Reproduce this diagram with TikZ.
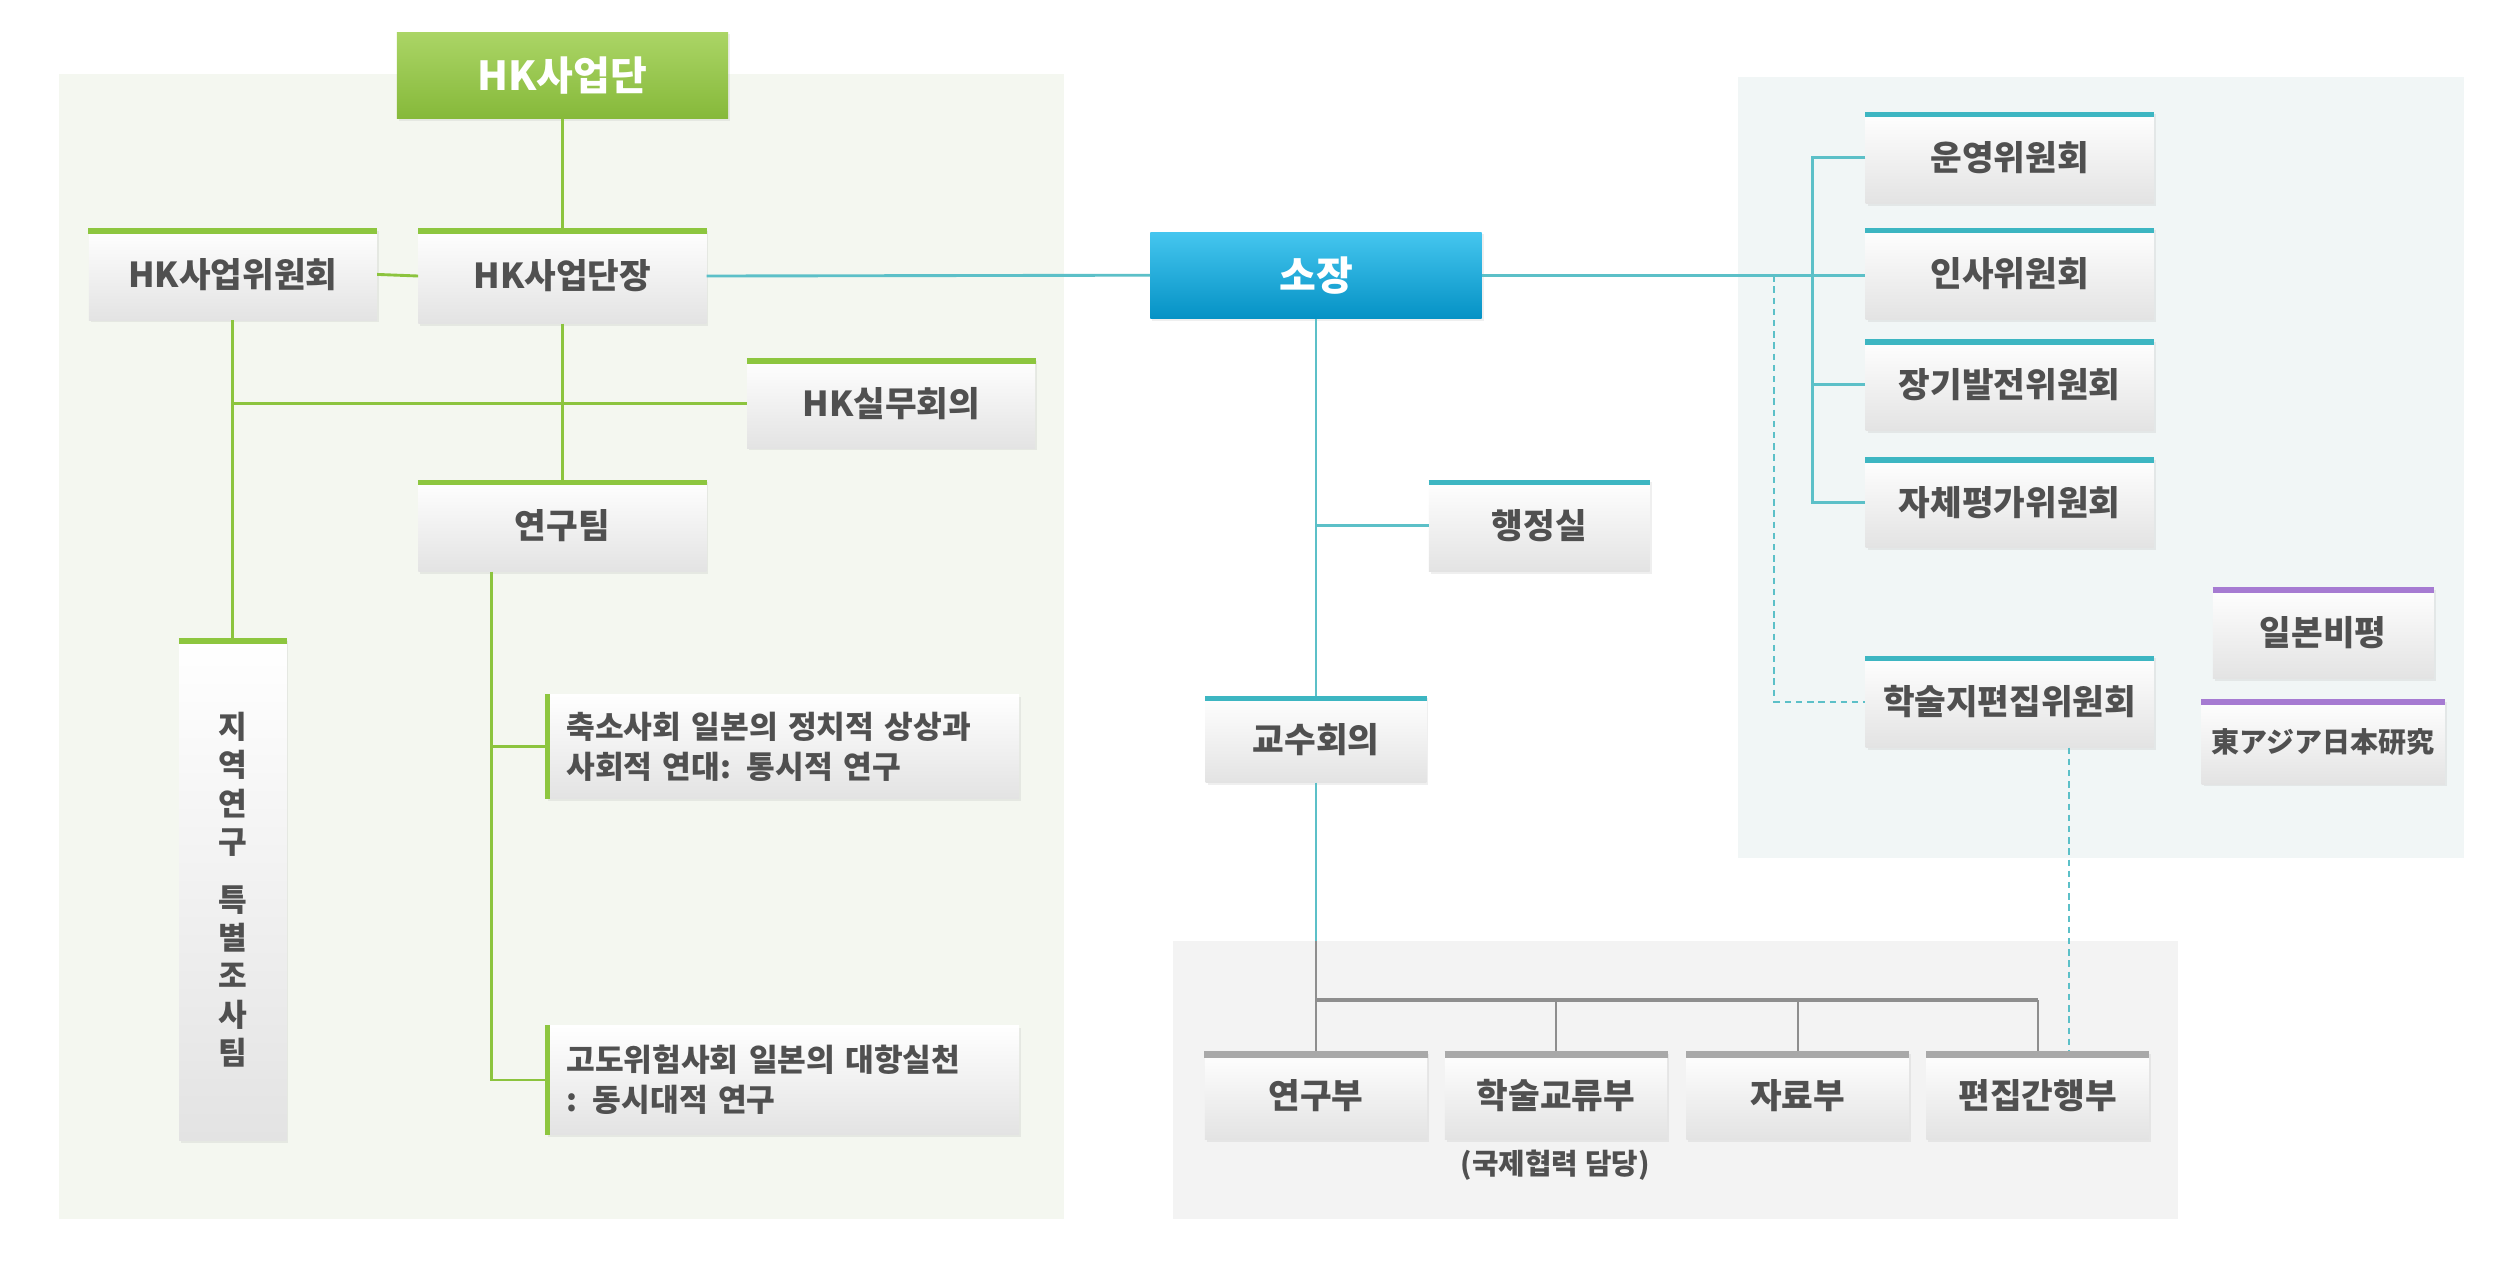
\documentclass[tikz,border=0pt]{standalone}
\usepackage{fontspec}
\setmainfont{Noto Sans CJK KR}
\usetikzlibrary{shadows}
\definecolor{txt}{HTML}{505050}
\definecolor{gbar}{HTML}{8DC63F}
\definecolor{gline}{HTML}{8CC43E}
\definecolor{tbar}{HTML}{3DB6C2}
\definecolor{tline}{HTML}{5CC0C8}
\definecolor{pbar}{HTML}{A67BD2}
\definecolor{graybar}{HTML}{A9A9A9}
\definecolor{grayline}{HTML}{8E8E8E}
\definecolor{boxbot}{HTML}{E3E3E3}
\definecolor{bgL}{HTML}{F4F7F0}
\definecolor{bgR}{HTML}{F1F6F6}
\definecolor{bgB}{HTML}{F3F3F3}
\definecolor{gtop}{HTML}{ABD566}
\definecolor{gbot}{HTML}{86B93A}
\definecolor{btop}{HTML}{45C6EF}
\definecolor{bbot}{HTML}{0592C5}
\newcommand\fM{\fontsize{21.5}{25}\selectfont\bfseries}
\newcommand\fT{\fontsize{25}{29}\selectfont\bfseries}
\newcommand\fS{\fontsize{19.5}{25}\selectfont\bfseries}
\begin{document}
\begin{tikzpicture}[x=1pt,y=-1pt,
  box/.style={top color=white, bottom color=boxbot, inner sep=0pt, text=txt, font=\fM,
    drop shadow={shadow xshift=1.2pt, shadow yshift=-1.5pt, opacity=0.12}},
  hbox/.style={box, minimum width=180pt, minimum height=57pt},
  sbox/.style={box, minimum width=138pt, minimum height=56pt},
  dbox/.style={box, minimum width=139pt, minimum height=55pt},
  pbox/.style={box, minimum width=296pt, font=\fS, align=left, text width=270pt},
  headbox/.style={inner sep=0pt, minimum width=207pt, minimum height=54pt, text=white, font=\fT,
    drop shadow={shadow xshift=1.2pt, shadow yshift=-1.5pt, opacity=0.12}},
  topbar/.style={line width=3.6pt},
  gl/.style={draw=gline, line width=1.8pt},
  tl/.style={draw=tline, line width=1.8pt},
  dl/.style={draw=tline, line width=1.3pt, dash pattern=on 4pt off 3pt},
  grl/.style={draw=grayline, line width=1.3pt},
]
\useasboundingbox (0,0) rectangle (1562.5,798.75);
\fill[white] (0,0) rectangle (1562.5,798.75);
% panels
\fill[bgL] (37,46) rectangle (665,762);
\fill[bgR] (1086,48) rectangle (1540,536);
\fill[bgB] (733,588) rectangle (1361,762);

% left group
\node[headbox, top color=gtop, bottom color=gbot] (hkd) at (351.5,47) {HK사업단};
\node[hbox] (hkc) at (145.5,171.5) {HK사업위원회};
\node[hbox, minimum height=59pt] (hkl) at (351.5,172.5) {HK사업단장};
\node[hbox, minimum height=56pt] (hkm) at (557,252) {HK실무회의};
\node[hbox] (team) at (351.5,328.5) {연구팀};
\node[box, minimum width=67pt, minimum height=314pt, font=\fontsize{19.5}{24}\selectfont\bfseries, align=center]
  (reg) at (145.5,556) {지\\역\\연\\구\\[12pt]특\\별\\조\\사\\팀};
\node[pbox, minimum height=65pt] (p1) at (489,466.5) {축소사회 일본의 정치적 상상과\\사회적 연대: 통시적 연구};
\node[pbox, minimum height=68pt] (p2) at (489,675) {고도위험사회 일본의 대항실천\\: 동시대적 연구};

\foreach \n in {hkc,hkl,hkm,team,reg}
  \draw[topbar, draw=gbar] ([yshift=-1.8pt]\n.north west) -- ([yshift=-1.8pt]\n.north east);
\foreach \n in {p1,p2}
  \draw[line width=3pt, draw=gbar] ([xshift=1.5pt]\n.north west) -- ([xshift=1.5pt]\n.south west);

% left connectors
\draw[gl] (hkd.south) -- (hkl.north);
\draw[gl] (hkc.east) -- (hkl.west);
\draw[gl] (hkl.south) -- (team.north);
\draw[gl] (hkc.south) -- (reg.north);
\draw[gl] (hkc.south |- hkm.west) -- (hkm.west);
\draw[gl] ([xshift=-44.5pt]team.south) |- (p2.west);
\draw[gl] ([xshift=-44.5pt]team.south |- p1.west) -- (p1.west);

% center / right group
\node[headbox, top color=btop, bottom color=bbot] (dir) at (822.5,172) {소장};
\node[hbox] (c1) at (1256,98.5) {운영위원회};
\node[hbox] (c2) at (1256,171) {인사위원회};
\node[hbox] (c3) at (1256,240.5) {장기발전위원회};
\node[hbox, minimum height=56pt] (c4) at (1256,314) {자체평가위원회};
\node[hbox] (c5) at (1256,438.5) {학술지편집위원회};
\node[sbox, minimum height=57pt] (jr1) at (1452,395.5) {일본비평};
\node[box, minimum width=152pt, minimum height=53pt, font=\fontsize{17.5}{20}\selectfont\bfseries] (jr2) at (1452,463.5) {東アジア日本研究};
\node[sbox, minimum height=57pt] (adm) at (962,328.5) {행정실};
\node[sbox, minimum height=54pt] (prof) at (822.5,462) {교수회의};
\node[dbox] (d1) at (822.5,684.5) {연구부};
\node[dbox] (d2) at (972.5,684.5) {학술교류부};
\node[dbox] (d3) at (1123.5,684.5) {자료부};
\node[dbox] (d4) at (1273.5,684.5) {편집간행부};
\node[text=txt, font=\fontsize{18}{20}\selectfont\bfseries, inner sep=0pt] (note) at (972,728) {(국제협력 담당)};

\foreach \n in {c1,c2,c3,c4,c5,adm,prof}
  \draw[topbar, draw=tbar] ([yshift=-1.8pt]\n.north west) -- ([yshift=-1.8pt]\n.north east);
\foreach \n in {jr1,jr2}
  \draw[topbar, draw=pbar] ([yshift=-1.8pt]\n.north west) -- ([yshift=-1.8pt]\n.north east);
\foreach \n in {d1,d2,d3,d4}
  \draw[line width=4.5pt, draw=graybar] ([yshift=-2.2pt]\n.north west) -- ([yshift=-2.2pt]\n.north east);

% center connectors
\draw[tl] (hkl.east) -- (dir.west);
\draw[tl] (dir.east) -- (dir.east -| c2.west);
\draw[tl] (dir.south) -- (prof.north);
\draw[tl] (dir.south |- adm.west) -- (adm.west);
\coordinate (trunk) at (1133,0);
\draw[tl] (c1.west) -| (trunk |- c4.west) -- (c4.west);
\draw[tl] (trunk |- c3.west) -- (c3.west);
\coordinate (dj) at (1109,0);
\draw[dl] (dj |- dir.east) |- (c5.west);
\draw[dl] ([xshift=37pt]c5.south) -- ([xshift=37pt]c5.south |- d4.north);
\coordinate (bus) at (0,625);
\coordinate (pt) at (0,588);
\draw[tl] (prof.south) -- (prof.south |- pt);
\draw[grl] (prof.south |- pt) -- (d1.north);
\draw[grl, line width=2.2pt] (d1.north |- bus) -- (d4.north |- bus);
\foreach \n in {d2,d3,d4}
  \draw[grl] (\n.north |- bus) -- (\n.north);
\end{tikzpicture}
\end{document}
